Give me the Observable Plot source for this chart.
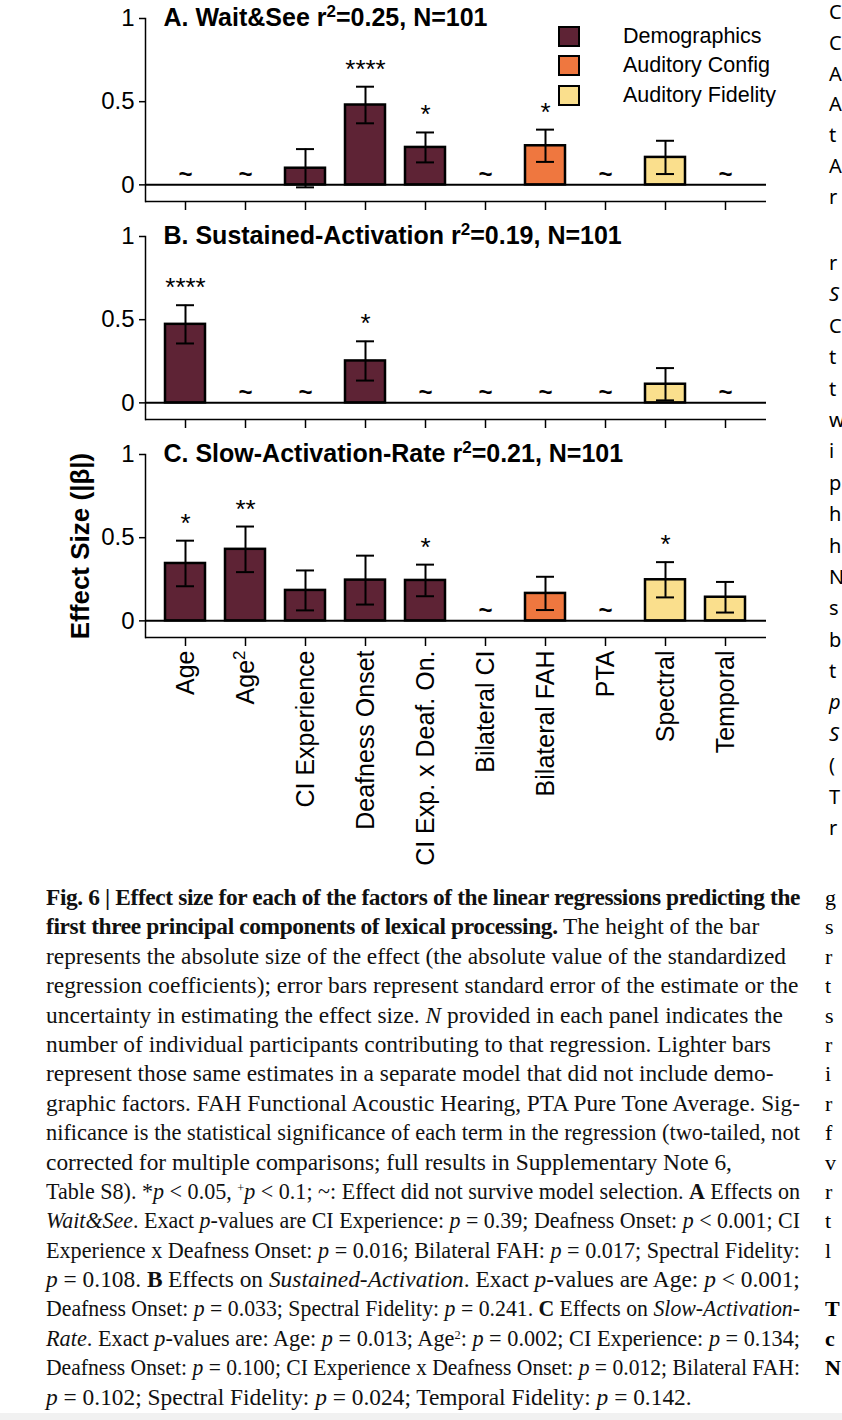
<!DOCTYPE html>
<html>
<head>
<meta charset="utf-8">
<script src="https://cdn.jsdelivr.net/npm/d3@7"></script>
<script src="https://cdn.jsdelivr.net/npm/@observablehq/plot@0.6"></script>
<style>
html,body{margin:0;padding:0;background:#fff;}
body{width:842px;height:1420px;overflow:hidden;position:relative;font-family:'Liberation Sans',Arial,sans-serif;color:#000;}
.panel{position:absolute;left:0;}
.panel svg{overflow:visible;}
#legend{position:absolute;left:558px;top:22px;font-size:21.5px;font-family:'Liberation Sans',Arial,sans-serif;}
.lrow{display:flex;align-items:center;height:29.3px;}
.sw{width:22px;height:21px;box-sizing:border-box;border:2.5px solid #000;margin-right:43px;}
#caption{position:absolute;left:46px;top:883px;width:754px;font-family:'Liberation Serif','Times New Roman',serif;font-size:23.4px;line-height:29.4px;color:#111;}
#caption div{white-space:nowrap;height:29.4px;}
#caption b{letter-spacing:-0.38px;}
#caption sup{line-height:0;font-size:13px;vertical-align:0.55em;}
.frag{position:absolute;left:829px;white-space:nowrap;}
#fragTop{top:-3px;font-family:'Noto Sans',sans-serif;font-size:20px;}
#fragTop div{height:30.8px;line-height:30.8px;}
#fragMid{top:247px;font-family:'Noto Sans',sans-serif;font-size:20px;}
#fragMid div{height:31.4px;line-height:31.4px;}
#fragBot{top:883px;left:825px;font-family:'Liberation Serif',serif;font-size:22px;}
#fragBot div{height:29.4px;line-height:29.4px;}
#pageEdge{position:absolute;left:0;top:1413px;width:842px;height:7px;background:#f1f1f1;}
</style>
</head>
<body>
<div id="pageEdge"></div>
<div id="pA" class="panel" style="top:0px"></div>
<div id="pB" class="panel" style="top:218px"></div>
<div id="pC" class="panel" style="top:436px"></div>
<div id="legend"></div>
<div id="caption">
<div><b>Fig. 6 | Effect size for each of the factors of the linear regressions predicting the</b></div>
<div><b>first three principal components of lexical processing.</b> The height of the bar</div>
<div>represents the absolute size of the effect (the absolute value of the standardized</div>
<div>regression coefficients); error bars represent standard error of the estimate or the</div>
<div>uncertainty in estimating the effect size. <i>N</i> provided in each panel indicates the</div>
<div>number of individual participants contributing to that regression. Lighter bars</div>
<div>represent those same estimates in a separate model that did not include demo-</div>
<div>graphic factors. FAH Functional Acoustic Hearing, PTA Pure Tone Average. Sig-</div>
<div>nificance is the statistical significance of each term in the regression (two-tailed, not</div>
<div>corrected for multiple comparisons; full results in Supplementary Note 6,</div>
<div>Table S8). *<i>p</i> &lt; 0.05, <sup>+</sup><i>p</i> &lt; 0.1; ~: Effect did not survive model selection. <b>A</b> Effects on</div>
<div><i>Wait&amp;See</i>. Exact <i>p</i>-values are CI Experience: <i>p</i> = 0.39; Deafness Onset: <i>p</i> &lt; 0.001; CI</div>
<div>Experience x Deafness Onset: <i>p</i> = 0.016; Bilateral FAH: <i>p</i> = 0.017; Spectral Fidelity:</div>
<div><i>p</i> = 0.108. <b>B</b> Effects on <i>Sustained-Activation</i>. Exact <i>p</i>-values are Age: <i>p</i> &lt; 0.001;</div>
<div>Deafness Onset: <i>p</i> = 0.033; Spectral Fidelity: <i>p</i> = 0.241. <b>C</b> Effects on <i>Slow-Activation-</i></div>
<div><i>Rate</i>. Exact <i>p</i>-values are: Age: <i>p</i> = 0.013; Age<sup>2</sup>: <i>p</i> = 0.002; CI Experience: <i>p</i> = 0.134;</div>
<div>Deafness Onset: <i>p</i> = 0.100; CI Experience x Deafness Onset: <i>p</i> = 0.012; Bilateral FAH:</div>
<div><i>p</i> = 0.102; Spectral Fidelity: <i>p</i> = 0.024; Temporal Fidelity: <i>p</i> = 0.142.</div>
</div>
<div id="fragTop" class="frag"><div>C</div><div>C</div><div>A</div><div>A</div><div>t</div><div>A</div><div>r</div></div>
<div id="fragMid" class="frag"><div>r</div><div><i>S</i></div><div>C</div><div>t</div><div>t</div><div>w</div><div>i</div><div>p</div><div>h</div><div>h</div><div>N</div><div>s</div><div>b</div><div>t</div><div><i>p</i></div><div><i>S</i></div><div>(</div><div>T</div><div>r</div></div>
<div id="fragBot" class="frag"><div>g</div><div>s</div><div>r</div><div>t</div><div>s</div><div>r</div><div>i</div><div>r</div><div>f</div><div>v</div><div>r</div><div>t</div><div>l</div><div>&nbsp;</div><div><b>T</b></div><div><b>c</b></div><div><b>N</b></div></div>
<script>
// ---- data ----
const factors = ["Age", "Age²", "CI Experience", "Deafness Onset", "CI Exp. x Deaf. On.", "Bilateral CI", "Bilateral FAH", "PTA", "Spectral", "Temporal"];
const factorGroup = ["Demographics", "Demographics", "Demographics", "Demographics", "Demographics", "Auditory Config", "Auditory Config", "Auditory Config", "Auditory Fidelity", "Auditory Fidelity"];
const groupNames = ["Demographics", "Auditory Config", "Auditory Fidelity"];
const groupColors = ["#5E2335", "#EF773F", "#FADF8D"];
const panelTitles = ["A. Wait&See r²=0.25, N=101", "B. Sustained-Activation r²=0.19, N=101", "C. Slow-Activation-Rate r²=0.21, N=101"];
const waitSeeBeta = [null, null, 0.10, 0.48, 0.225, null, 0.235, null, 0.165, null];
const waitSeeSE = [null, null, 0.115, 0.11, 0.09, null, 0.097, null, 0.10, null];
const waitSeeSig = ["~", "~", "", "****", "*", "~", "*", "~", "", "~"];
const sustainedBeta = [0.472, null, null, 0.252, null, null, null, null, 0.112, null];
const sustainedSE = [0.115, null, null, 0.118, null, null, null, null, 0.097, null];
const sustainedSig = ["****", "~", "~", "*", "~", "~", "~", "~", "", "~"];
const slowRateBeta = [0.345, 0.43, 0.183, 0.245, 0.243, null, 0.165, null, 0.247, 0.142];
const slowRateSE = [0.137, 0.137, 0.12, 0.147, 0.095, null, 0.10, null, 0.106, 0.092];
const slowRateSig = ["*", "**", "", "", "*", "~", "", "~", "*", ""];
const yTicks = [0, 0.5, 1];
const yDomain = [-0.1, 1];
const yLabel = "Effect Size (|β|)";

function rowsFor(beta, se, sig) {
  return factors.map((f, i) => ({
    factor: f, group: factorGroup[i], beta: beta[i],
    lo: beta[i] == null ? null : beta[i] - se[i],
    hi: beta[i] == null ? null : beta[i] + se[i],
    sig: sig[i]
  }));
}

// render "²" as a raised, smaller "2"
function superscriptify(svg) {
  const ns = "http://www.w3.org/2000/svg";
  svg.querySelectorAll("text").forEach(t => {
    if (t.children.length || !t.textContent.includes("²")) return;
    const parts = t.textContent.split("²");
    t.textContent = "";
    parts.forEach((p, i) => {
      if (i > 0) {
        const s = document.createElementNS(ns, "tspan");
        s.setAttribute("font-size", "68%");
        s.setAttribute("baseline-shift", "55%");
        s.textContent = "2";
        t.append(s);
      }
      if (p) {
        const r = document.createElementNS(ns, "tspan");
        r.textContent = p;
        t.append(r);
      }
    });
  });
  return svg;
}

function panel(rows, title, showLabels) {
  const bars = rows.filter(d => d.beta != null);
  const marks = [
    Plot.ruleY([0], {stroke: "#000", strokeWidth: 2}),
    Plot.barY(bars, {x: "factor", y: "beta", fill: "group", stroke: "#000", strokeWidth: 2.5}),
    Plot.ruleX(bars, {x: "factor", y1: "lo", y2: "hi", stroke: "#000", strokeWidth: 2}),
    Plot.tickY(bars, {x: "factor", y: "lo", insetLeft: 11, insetRight: 11, stroke: "#000", strokeWidth: 2}),
    Plot.tickY(bars, {x: "factor", y: "hi", insetLeft: 11, insetRight: 11, stroke: "#000", strokeWidth: 2}),
    Plot.text(rows.filter(d => d.sig && d.sig !== "~"), {x: "factor", y: "hi", text: "sig", lineAnchor: "bottom", dy: -9, fontSize: 26}),
    Plot.text(rows.filter(d => d.sig === "~"), {x: "factor", y: () => 0, text: "sig", lineAnchor: "bottom", dy: -3, fontSize: 24, fontWeight: "bold"}),
    Plot.ruleY([yDomain[0]], {stroke: "#000", strokeWidth: 1.5}),
    Plot.frame({anchor: "left", stroke: "#000", strokeWidth: 1.5}),
    Plot.axisY({ticks: yTicks, tickFormat: d => String(d), tickSize: 6, tickPadding: 5, fontSize: 24, label: null, strokeWidth: 1.5}),
    Plot.axisX({tickSize: 9, label: null, strokeWidth: 1.5, tickFormat: showLabels ? d => d : () => "", tickRotate: showLabels ? -90 : 0, fontSize: 25, tickPadding: 4}),
    Plot.text([title], {frameAnchor: "top-left", dx: 18, dy: 7, lineAnchor: "bottom", textAnchor: "start", fontSize: 25, fontWeight: "bold"})
  ];
  if (showLabels) {
    marks.push(Plot.text([yLabel], {frameAnchor: "left", dx: -65, rotate: -90, textAnchor: "middle", lineAnchor: "middle", fontSize: 26, fontWeight: "bold"}));
  }
  return superscriptify(Plot.plot({
    width: 842,
    height: showLabels ? 431 : 218,
    marginLeft: 145, marginRight: 76, marginTop: 18,
    marginBottom: showLabels ? 230 : 17,
    style: {fontFamily: "'Liberation Sans', Arial, sans-serif", fontSize: "24px", color: "#000", background: "transparent", overflow: "visible"},
    x: {domain: factors, paddingInner: 0.326, paddingOuter: 0.33},
    y: {domain: yDomain},
    color: {domain: groupNames, range: groupColors},
    marks
  }));
}

document.getElementById("pA").append(panel(rowsFor(waitSeeBeta, waitSeeSE, waitSeeSig), panelTitles[0], false));
document.getElementById("pB").append(panel(rowsFor(sustainedBeta, sustainedSE, sustainedSig), panelTitles[1], false));
document.getElementById("pC").append(panel(rowsFor(slowRateBeta, slowRateSE, slowRateSig), panelTitles[2], true));

const legend = document.getElementById("legend");
groupNames.forEach((g, i) => {
  const row = document.createElement("div");
  row.className = "lrow";
  const sw = document.createElement("div");
  sw.className = "sw";
  sw.style.background = groupColors[i];
  const t = document.createElement("span");
  t.textContent = g;
  row.append(sw, t);
  legend.append(row);
});

// keep every caption line inside the text column
function fitCaption() {
  const maxW = 754;
  document.querySelectorAll("#caption > div").forEach(div => {
    div.style.transform = "";
    const r = document.createRange();
    r.selectNodeContents(div);
    const w = r.getBoundingClientRect().width;
    if (w > maxW) {
      div.style.transformOrigin = "0 50%";
      div.style.transform = `scaleX(${(maxW / w).toFixed(4)})`;
    }
  });
}
fitCaption();
if (document.fonts && document.fonts.ready) document.fonts.ready.then(fitCaption);
</script>
</body>
</html>
